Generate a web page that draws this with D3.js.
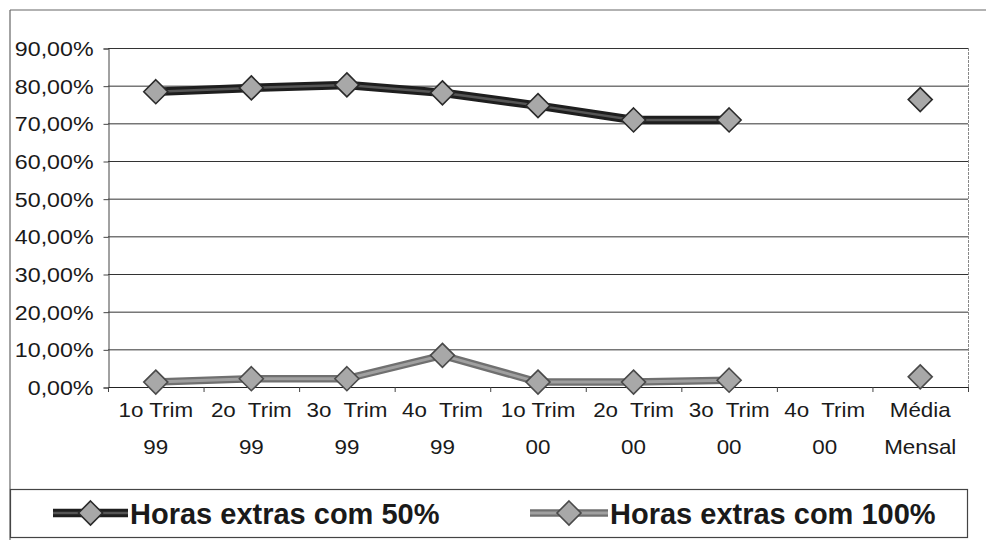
<!DOCTYPE html>
<html>
<head>
<meta charset="utf-8">
<script src="https://cdn.jsdelivr.net/npm/d3@7"></script>
<style>
  html, body { margin: 0; padding: 0; background: #fff; }
  svg { display: block; font-family: "Liberation Sans", Arial, sans-serif; }
</style>
</head>
<body>
<svg id="chart" width="986" height="540"></svg>
<script>
// ---- data ----
const categoriesLine1 = ["1o Trim", "2o  Trim", "3o  Trim", "4o  Trim", "1o Trim", "2o  Trim", "3o  Trim", "4o  Trim", "Média"];
const categoriesLine2 = ["99", "99", "99", "99", "00", "00", "00", "00", "Mensal"];
const seriesNames = ["Horas extras com 50%", "Horas extras com 100%"];
const horas50 = [78.4, 79.4, 80.2, 78.1, 74.7, 70.9, 70.9, null, 76.3];
const horas100 = [1.3, 2.2, 2.2, 8.4, 1.3, 1.3, 1.8, null, 2.7];
const yTicks = [0, 10, 20, 30, 40, 50, 60, 70, 80, 90];

// ---- layout ----
const svg = d3.select("#chart");
const plot = { left: 108, right: 968, top: 48, bottom: 387 };
const idx = d3.range(categoriesLine1.length);

const x = d3.scaleBand().domain(idx).range([plot.left, plot.right]).padding(0);
const y = d3.scaleLinear().domain([0, 90]).range([plot.bottom, plot.top]);
const cx = i => x(i) + x.bandwidth() / 2;

// outer chart frame
svg.append("line").attr("x1", 10).attr("y1", 10).attr("x2", 986).attr("y2", 10)
  .attr("stroke", "#666").attr("stroke-width", 1.2);
svg.append("line").attr("x1", 10).attr("y1", 10).attr("x2", 10).attr("y2", 540)
  .attr("stroke", "#666").attr("stroke-width", 1.2);

// gridlines
svg.append("g").selectAll("line").data(yTicks).join("line")
  .attr("x1", plot.left).attr("x2", plot.right)
  .attr("y1", d => y(d) + 0.5).attr("y2", d => y(d) + 0.5)
  .attr("stroke", "#333").attr("stroke-width", 1);

// plot area right border
svg.append("line").attr("x1", plot.right + 0.5).attr("x2", plot.right + 0.5)
  .attr("y1", plot.top).attr("y2", plot.bottom)
  .attr("stroke", "#888").attr("stroke-width", 1).attr("stroke-dasharray", "3,1");

// y axis
const yAxis = d3.axisLeft(y).tickValues(yTicks).tickSize(5).tickPadding(10)
  .tickFormat(d => d.toFixed(2).replace(".", ",") + "%");
const gy = svg.append("g").attr("transform", `translate(${plot.left + 0.5},0.5)`).call(yAxis);
gy.select(".domain").attr("stroke", "#444");
gy.selectAll(".tick line").attr("stroke", "#444");
gy.selectAll(".tick text")
  .attr("font-size", 20).attr("fill", "#1a1a1a").attr("font-family", "Liberation Sans, Arial, sans-serif")
  .attr("x", null).attr("dy", "0.35em")
  .attr("transform", "translate(-15,0) scale(1.16,1)");

// x axis (ticks at category boundaries)
const xAxisG = svg.append("g");
xAxisG.append("line").attr("x1", plot.left).attr("x2", plot.right)
  .attr("y1", plot.bottom + 0.5).attr("y2", plot.bottom + 0.5).attr("stroke", "#222");
xAxisG.selectAll("line.tk").data(idx.concat([idx.length])).join("line").attr("class", "tk")
  .attr("x1", i => (i < idx.length ? x(i) : plot.right) + 0.5)
  .attr("x2", i => (i < idx.length ? x(i) : plot.right) + 0.5)
  .attr("y1", plot.bottom).attr("y2", plot.bottom + 5).attr("stroke", "#444");

const labG = svg.append("g").attr("font-size", 20).attr("fill", "#1a1a1a").attr("text-anchor", "middle");
labG.selectAll("text.l1").data(idx).join("text").attr("class", "l1")
  .attr("transform", i => `translate(${cx(i)},417) scale(1.12,1)`)
  .attr("xml:space", "preserve").style("white-space", "pre")
  .text(i => categoriesLine1[i]);
labG.selectAll("text.l2").data(idx).join("text").attr("class", "l2")
  .attr("transform", i => `translate(${cx(i)},454) scale(1.12,1)`)
  .text(i => categoriesLine2[i]);

// series
const line = d3.line().defined(d => d.v != null).x(d => cx(d.i)).y(d => y(d.v));
const diamond = (g, px, py, stroke) => {
  const s = 12;
  g.append("path")
    .attr("d", `M${px},${py - s}L${px + s},${py}L${px},${py + s}L${px - s},${py}Z`)
    .attr("fill", "#a8a8a8").attr("stroke", stroke).attr("stroke-width", 1.6);
};
const series = [
  { vals: horas50, outer: "#1e1e1e", inner: "#555", outerW: 8.5, innerW: 2.5, mStroke: "#2a2a2a" },
  { vals: horas100, outer: "#707070", inner: "#a0a0a0", outerW: 7.5, innerW: 3, mStroke: "#4a4a4a" }
];
series.forEach(s => {
  const data = s.vals.map((v, i) => ({ i, v }));
  const g = svg.append("g");
  g.append("path").attr("d", line(data)).attr("fill", "none")
    .attr("stroke", s.outer).attr("stroke-width", s.outerW).attr("stroke-linejoin", "round");
  g.append("path").attr("d", line(data)).attr("fill", "none")
    .attr("stroke", s.inner).attr("stroke-width", s.innerW).attr("stroke-linejoin", "round");
  data.filter(d => d.v != null).forEach(d => diamond(g, cx(d.i), y(d.v), s.mStroke));
});

// legend
svg.append("rect").attr("x", 10.5).attr("y", 489.5).attr("width", 957).attr("height", 48)
  .attr("fill", "none").attr("stroke", "#444").attr("stroke-width", 1.2);
const legendPos = [{ x0: 53, x1: 128, tx: 130 }, { x0: 530, x1: 608, tx: 610 }];
legendPos.forEach((p, k) => {
  const s = series[k];
  const g = svg.append("g");
  const ly = 513;
  g.append("line").attr("x1", p.x0).attr("x2", p.x1).attr("y1", ly).attr("y2", ly)
    .attr("stroke", s.outer).attr("stroke-width", s.outerW);
  g.append("line").attr("x1", p.x0).attr("x2", p.x1).attr("y1", ly).attr("y2", ly)
    .attr("stroke", s.inner).attr("stroke-width", s.innerW);
  diamond(g, (p.x0 + p.x1) / 2, ly, s.mStroke);
  g.append("text").attr("x", p.tx).attr("y", ly + 10.5)
    .attr("font-size", 29).attr("font-weight", "bold").attr("fill", "#1a1a1a")
    .text(seriesNames[k]);
});
</script>
</body>
</html>
